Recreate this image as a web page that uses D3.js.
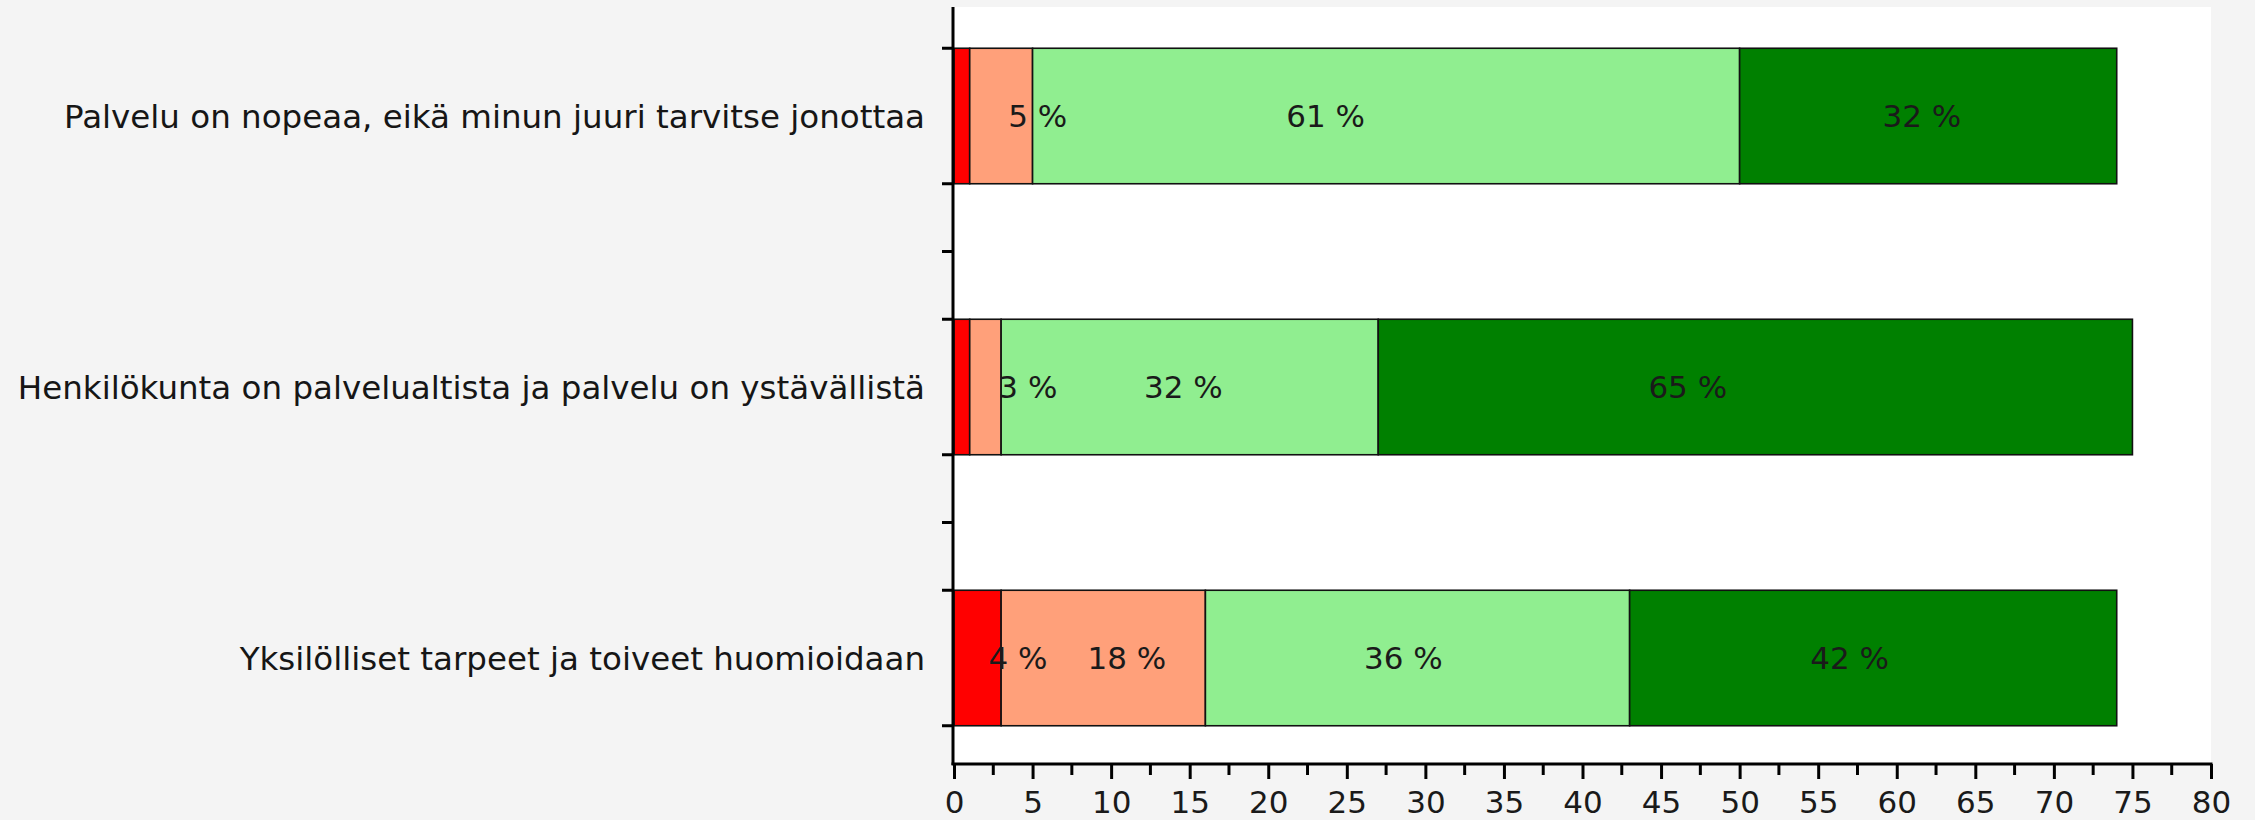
<!DOCTYPE html>
<html>
<head>
<meta charset="utf-8">
<script src="https://cdn.jsdelivr.net/npm/d3@7"></script>
<style>
  html, body { margin: 0; padding: 0; background: #f4f4f4; }
  svg { display: block; }
</style>
</head>
<body>
<svg id="chart" width="2255" height="820"></svg>
<script>
// ---- data ----
const categories = [
  "Palvelu on nopeaa, eikä minun juuri tarvitse jonottaa",
  "Henkilökunta on palvelualtista ja palvelu on ystävällistä",
  "Yksilölliset tarpeet ja toiveet huomioidaan"
];
const seriesNames = ["red", "salmon", "lightgreen", "darkgreen"];
const seriesColors = ["#ff0000", "#ffa07a", "#90ee90", "#008000"];
// counts per category
const valuesRed        = [1, 1, 3];
const valuesSalmon     = [4, 2, 13];
const valuesLightGreen = [45, 24, 27];
const valuesDarkGreen  = [24, 48, 31];
// percentage labels
const labelsRed        = ["", "", "4 %"];
const labelsSalmon     = ["5 %", "3 %", "18 %"];
const labelsLightGreen = ["61 %", "32 %", "36 %"];
const labelsDarkGreen  = ["32 %", "65 %", "42 %"];
// label anchor along value axis
const labelAtRed        = [null, null, 4.07];
const labelAtSalmon     = [5.33, 4.7, 11.0];
const labelAtLightGreen = [23.65, 14.6, 28.6];
const labelAtDarkGreen  = [61.6, 46.7, 57.0];
const xTickValues = d3.range(0, 81, 5);
const xMinorTicks = d3.range(2.5, 80, 5);

const allValues = [valuesRed, valuesSalmon, valuesLightGreen, valuesDarkGreen];
const allLabels = [labelsRed, labelsSalmon, labelsLightGreen, labelsDarkGreen];
const allLabelAt = [labelAtRed, labelAtSalmon, labelAtLightGreen, labelAtDarkGreen];

// ---- layout ----
const svg = d3.select("#chart");
const plotLeft = 953, plotRight = 2211, plotTop = 7, plotBottom = 764;
const x = d3.scaleLinear().domain([0, 80]).range([954, 2211]);
const y = d3.scaleBand().domain(categories).range([-19.5, 793.5])
  .paddingInner(0.5).paddingOuter(0.25);

const fontFam = "'DejaVu Sans', Verdana, sans-serif";

svg.append("rect").attr("x", plotLeft).attr("y", plotTop)
  .attr("width", plotRight - plotLeft).attr("height", plotBottom - plotTop)
  .attr("fill", "#ffffff");

// stacked data
const rows = categories.map((c, i) => {
  let acc = 0;
  return seriesNames.map((s, k) => {
    const v = allValues[k][i];
    const seg = { cat: c, k, x0: acc, x1: acc + v, label: allLabels[k][i], at: allLabelAt[k][i] };
    acc += v;
    return seg;
  });
}).flat();

svg.append("g").selectAll("rect").data(rows).join("rect")
  .attr("x", d => x(d.x0))
  .attr("y", d => y(d.cat))
  .attr("width", d => x(d.x1) - x(d.x0))
  .attr("height", y.bandwidth())
  .attr("fill", d => seriesColors[d.k])
  .attr("stroke", "#111")
  .attr("stroke-width", 1.6);

svg.append("g").selectAll("text").data(rows.filter(d => d.label && d.at != null)).join("text")
  .attr("x", d => x(d.at))
  .attr("y", d => y(d.cat) + y.bandwidth() / 2)
  .attr("dy", "0.36em")
  .attr("text-anchor", "middle")
  .attr("font-family", fontFam)
  .attr("font-size", 31)
  .attr("fill", "#1a1a1a")
  .text(d => d.label);

// y axis line + ticks
svg.append("line").attr("x1", plotLeft).attr("x2", plotLeft)
  .attr("y1", plotTop).attr("y2", plotBottom + 1)
  .attr("stroke", "#000").attr("stroke-width", 3);

const yTicks = [];
categories.forEach((c, i) => {
  yTicks.push(y(c), y(c) + y.bandwidth());
  if (i < categories.length - 1) {
    yTicks.push((y(c) + y.bandwidth() + y(categories[i + 1])) / 2);
  }
});
svg.append("g").selectAll("line").data(yTicks).join("line")
  .attr("x1", plotLeft - 11).attr("x2", plotLeft)
  .attr("y1", d => d).attr("y2", d => d)
  .attr("stroke", "#000").attr("stroke-width", 3);

// category labels
svg.append("g").selectAll("text").data(categories).join("text")
  .attr("x", 925)
  .attr("y", d => y(d) + y.bandwidth() / 2)
  .attr("dy", "0.36em")
  .attr("text-anchor", "end")
  .attr("font-family", fontFam)
  .attr("font-size", 32.5)
  .attr("fill", "#161616")
  .text(d => d);

// x axis
const xAxis = d3.axisBottom(x).tickValues(xTickValues).tickSize(15).tickPadding(12)
  .tickFormat(d3.format("d"));
const gx = svg.append("g").attr("transform", `translate(0,${plotBottom})`).call(xAxis);
gx.select(".domain").remove();
gx.selectAll(".tick line").attr("stroke", "#000").attr("stroke-width", 3);
gx.selectAll(".tick text").attr("font-family", fontFam).attr("font-size", 31)
  .attr("fill", "#1a1a1a").attr("dy", "0.71em");
gx.append("g").selectAll("line").data(xMinorTicks).join("line")
  .attr("x1", d => x(d)).attr("x2", d => x(d)).attr("y1", 0).attr("y2", 11)
  .attr("stroke", "#000").attr("stroke-width", 3);
svg.append("line").attr("x1", plotLeft - 1.5).attr("x2", x(80) + 1.5)
  .attr("y1", plotBottom).attr("y2", plotBottom)
  .attr("stroke", "#000").attr("stroke-width", 3);
</script>
</body>
</html>
